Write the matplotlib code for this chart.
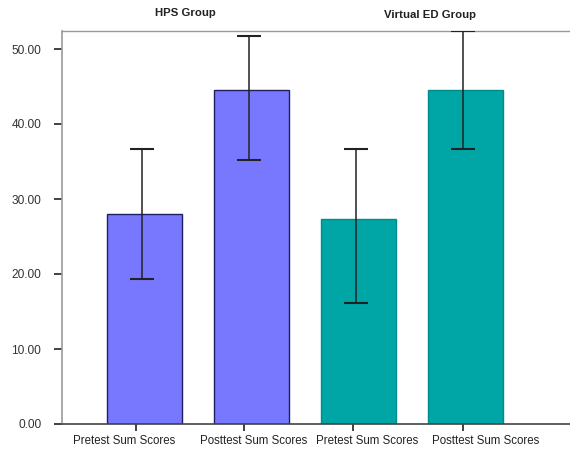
import matplotlib
matplotlib.use("Agg")
import matplotlib.pyplot as plt
import matplotlib.transforms as mtransforms
import numpy as np

plt.rcParams["font.family"] = ["Liberation Sans", "DejaVu Sans"]

categories = ["Pretest Sum Scores", "Posttest Sum Scores", "Pretest Sum Scores", "Posttest Sum Scores"]
means = [28.0, 44.6, 27.3, 44.55]
lower = [19.3, 35.15, 16.15, 36.7]
upper = [36.7, 51.7, 36.7, 52.4]
groups = ["HPS Group", "Virtual ED Group"]
yticks = [0, 10, 20, 30, 40, 50]

W, H = 570, 449
fig = plt.figure(figsize=(W/100, H/100), dpi=100)
ax_left, ax_right = 62/W, 1.0
ax_bottom, ax_top = 1 - 424/H, 1 - 31/H
ax = fig.add_axes([ax_left, ax_bottom, ax_right - ax_left, ax_top - ax_bottom])

x = np.arange(len(categories))
face = ["#7878FF", "#7878FF", "#00A6A6", "#00A6A6"]
edge = ["#1E1E60", "#1E1E60", "#008C8C", "#008C8C"]
ax.bar(x, means, width=0.70, color=face, edgecolor=edge, linewidth=1.0, zorder=2)
m = np.array(means)
yerr = np.vstack([m - np.array(lower), np.array(upper) - m])
ax.errorbar(x - 0.02, means, yerr=yerr, fmt="none", ecolor="#222222", elinewidth=1.1,
            capsize=8.6, capthick=1.5, zorder=3)

ax.set_xlim(-0.772, 3.98)
ax.set_ylim(0, 52.4)
ax.set_yticks(yticks)
ax.set_yticklabels([f"{v:.2f}" for v in yticks], fontsize=8.6, color="#333333")
ax.set_xticks(x + np.array([-0.08, -0.07, -0.05, -0.02]))
ax.set_xticklabels(categories, fontsize=8.3, color="#222222")
ax.tick_params(axis="y", length=6, width=1.3, color="#333333", pad=9)
ax.tick_params(axis="x", length=5, width=1.3, color="#333333", pad=3)

# shift each category label sideways as in the reference
shifts_pt = [-8.3, 6.8, 10.4, 16.2]
for lab, dx in zip(ax.get_xticklabels(), shifts_pt):
    lab.set_transform(lab.get_transform() +
                      mtransforms.ScaledTranslation(dx / 72, 0, fig.dpi_scale_trans))

ax.spines["right"].set_visible(False)
ax.spines["left"].set_color("#999999")
ax.spines["top"].set_color("#999999")
ax.spines["bottom"].set_color("#444444")
ax.spines["left"].set_linewidth(1.2)
ax.spines["top"].set_linewidth(1.0)
ax.spines["bottom"].set_linewidth(1.2)

fig.text(185/W, 1 - 13/H, groups[0], ha="center", va="center", fontsize=8.2,
         fontweight="bold", color="#222222")
fig.text(430/W, 1 - 15/H, groups[1], ha="center", va="center", fontsize=8.2,
         fontweight="bold", color="#222222")

fig.savefig("out.png", dpi=100)
